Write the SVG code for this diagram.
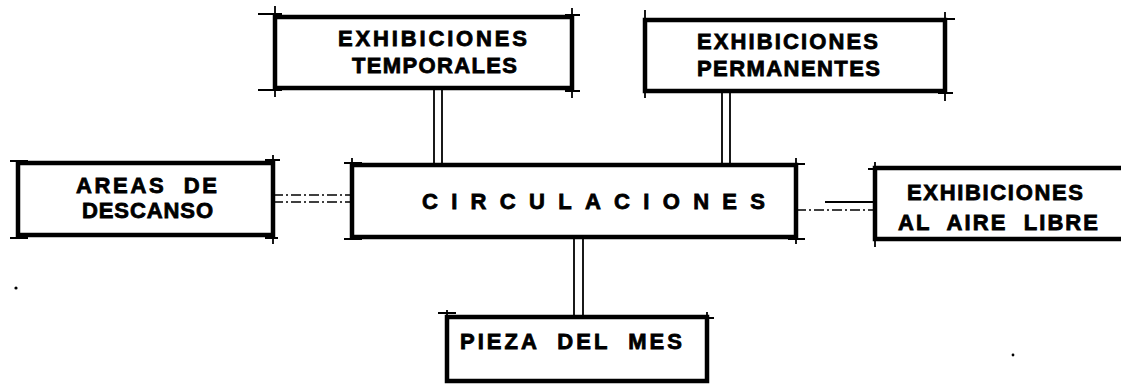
<svg xmlns="http://www.w3.org/2000/svg" width="1121" height="384" viewBox="0 0 1121 384">
<style>
.box{fill:#fff;stroke:#000;stroke-width:4.5}
.tick{fill:none;stroke:#000;stroke-width:1.8}
.lbl{font-family:"Liberation Sans",Arial,sans-serif;font-weight:bold;font-size:22px;fill:#000;stroke:#000;stroke-width:0.8;white-space:pre}
.con{fill:none;stroke:#000;stroke-width:1.8}
.dash{fill:none;stroke:#000;stroke-width:1.6;stroke-dasharray:10 3 2 3}
</style>
<rect width="1121" height="384" fill="#fff"/>
<g id="connectors">
<line class="con" x1="434" y1="88" x2="434" y2="165"/>
<line class="con" x1="442" y1="88" x2="442" y2="165"/>
<line class="con" x1="722" y1="91" x2="722" y2="165"/>
<line class="con" x1="730" y1="91" x2="730" y2="165"/>
<line class="dash" x1="273" y1="195" x2="352" y2="195"/>
<line class="dash" x1="273" y1="202" x2="352" y2="202"/>
<line class="con" x1="825" y1="202" x2="875" y2="202"/>
<line class="dash" x1="796" y1="210" x2="875" y2="210"/>
<line class="con" x1="574" y1="237" x2="574" y2="317"/>
<line class="con" x1="583" y1="237" x2="583" y2="317"/>
</g>
<g id="temporales">
<rect class="box" x="275" y="17" width="297" height="71"/>
<path class="tick" d="M258 14H282M275 6V28M275 80V97M258 90H282M572 8V24M572 80V98M565 15H580M565 91H580"/>
<text class="lbl" x="338" y="46" textLength="189" lengthAdjust="spacing">EXHIBICIONES</text>
<text class="lbl" x="352" y="73" textLength="165" lengthAdjust="spacing">TEMPORALES</text>
</g>
<g id="permanentes">
<rect class="box" x="645" y="20" width="300" height="71"/>
<path class="tick" d="M645 10V30M645 84V98M938 19H955M938 93H953M945 12V28M945 84V101"/>
<text class="lbl" x="697" y="49" textLength="181" lengthAdjust="spacing">EXHIBICIONES</text>
<text class="lbl" x="697" y="76" textLength="183" lengthAdjust="spacing">PERMANENTES</text>
</g>
<g id="areas">
<rect class="box" x="18" y="163" width="255" height="72"/>
<path class="tick" d="M10 161H28M10 238H28M265 160H280M265 238H278M273 155V170M273 228V244"/>
<text class="lbl" x="76" y="193" textLength="141" lengthAdjust="spacing">AREAS  DE</text>
<text class="lbl" x="82" y="218" textLength="131" lengthAdjust="spacing">DESCANSO</text>
</g>
<g id="circulaciones">
<rect class="box" x="352" y="165" width="444" height="72"/>
<path class="tick" d="M344 163H362M344 239H362M788 164H805M788 239H805M796 158V172M796 230V244M352 158V172"/>
<text class="lbl" x="422" y="209" textLength="343" lengthAdjust="spacing">CIRCULACIONES</text>
</g>
<g id="airelibre">
<rect class="box" x="875" y="168" width="250" height="71"/>
<path class="tick" d="M875 162V176M875 232V247M868 169H885"/>
<text class="lbl" x="907" y="200" textLength="176" lengthAdjust="spacing">EXHIBICIONES</text>
<text class="lbl" x="898" y="230" textLength="200" lengthAdjust="spacing">AL  AIRE  LIBRE</text>
</g>
<g id="pieza">
<rect class="box" x="447" y="317" width="260" height="64"/>
<path class="tick" d="M438 313H456M700 318H714M707 312V326M447 310V324"/>
<text class="lbl" x="460" y="349" textLength="222" lengthAdjust="spacing">PIEZA  DEL  MES</text>
</g>
<circle cx="16" cy="288" r="1.6" fill="#000"/>
<circle cx="1013" cy="355" r="1.4" fill="#000"/>
</svg>
